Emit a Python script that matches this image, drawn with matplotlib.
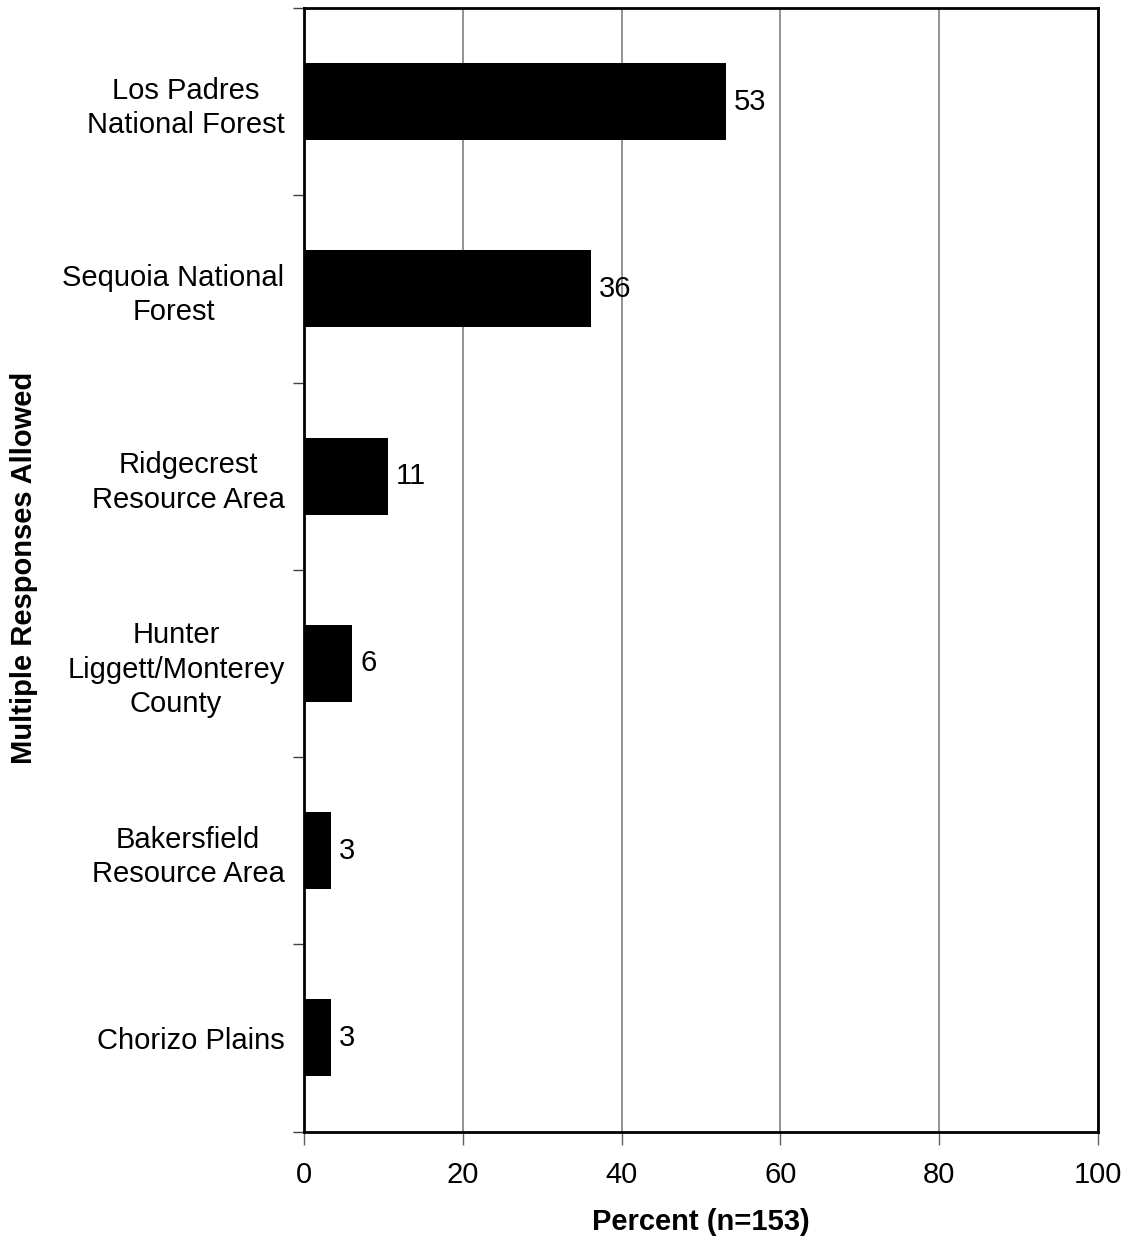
import matplotlib
matplotlib.use("Agg")
import matplotlib.pyplot as plt
import numpy as np

plt.rcParams['font.family'] = ['Liberation Sans', 'DejaVu Sans']

categories = ["Los Padres\nNational Forest", "Sequoia National\nForest",
              "Ridgecrest\nResource Area", "Hunter\nLiggett/Monterey\nCounty",
              "Bakersfield\nResource Area", "Chorizo Plains"]
percent = [53.1, 36.1, 10.6, 6.1, 3.4, 3.4]
xticks = [0, 20, 40, 60, 80, 100]

fs = 21
fig = plt.figure(figsize=(11.28, 12.43), dpi=100)
ax = fig.add_axes([304 / 1128, 1 - 1131.5 / 1243, (1098 - 304) / 1128, (1131.5 - 8) / 1243])

y = np.arange(len(categories))
ax.barh(y, percent, height=0.41, color='black', zorder=3)
for yi, v in zip(y, percent):
    ax.text(v + 1.0, yi, f"{v:.0f}", va='center', ha='left', fontsize=fs, zorder=4)

ax.set_xlim(0, 100)
ax.set_ylim(len(categories) - 0.5, -0.5)
ax.set_xticks(xticks)
ax.set_xticklabels([str(t) for t in xticks], fontsize=fs)
ax.xaxis.grid(True, color='#808080', linewidth=1.2, zorder=0)

# labels at the bar centres, tick marks on category boundaries
ax.set_yticks(y)
ax.set_yticklabels(categories, fontsize=fs, linespacing=1.3, multialignment='center')
ax.tick_params(axis='y', which='major', length=0, pad=14)
ax.set_yticks(np.arange(-0.5, len(categories)), minor=True)
ax.tick_params(axis='y', which='minor', length=8, width=1, color='#404040', direction='out')
ax.tick_params(axis='x', length=9, width=1, color='#606060', pad=12)

for s in ax.spines.values():
    s.set_linewidth(2)
    s.set_color('black')

ax.set_xlabel("Percent (n=153)", fontsize=fs, fontweight='bold', va='center')
ax.xaxis.set_label_coords(0.5, (1131.5 - 1222) / 1123.5)
ax.set_ylabel("Multiple Responses Allowed", fontsize=fs, fontweight='bold', va='center')
ax.yaxis.set_label_coords((24 - 304) / 794, (1131.5 - 568) / 1123.5)

fig.savefig("out.png", dpi=100, facecolor='white')
